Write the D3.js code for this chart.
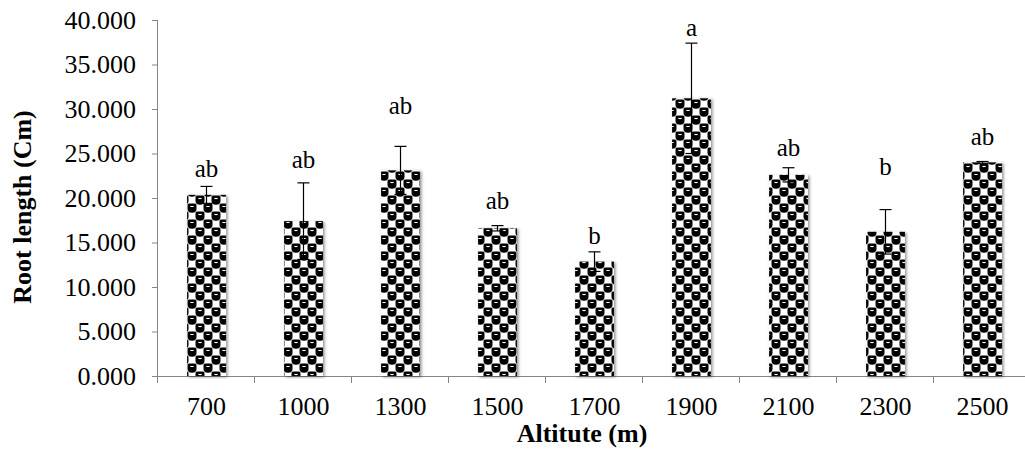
<!DOCTYPE html>
<html>
<head>
<meta charset="utf-8">
<script src="https://cdn.jsdelivr.net/npm/d3@7"></script>
<style>
  body { margin: 0; background: #fff; }
  svg text { font-family: "Liberation Serif", Tinos, "Times New Roman", "DejaVu Serif", serif; fill: #000; }
</style>
</head>
<body>
<div id="chart"></div>
<script>
// data
const altitudes = ["700", "1000", "1300", "1500", "1700", "1900", "2100", "2300", "2500"];
const rootLength = [20.35, 17.4, 23.1, 16.6, 12.85, 31.2, 22.6, 16.2, 24.0];
const stdError = [0.95, 4.3, 2.7, 0.3, 1.1, 6.2, 0.8, 2.5, 0.1];
const letters = ["ab", "ab", "ab", "ab", "b", "a", "ab", "b", "ab"];
// height (in Cm) where each significance letter sits
const letterAt = [22.4, 23.4, 29.4, 18.8, 14.8, 38.2, 24.7, 22.6, 26.0];
const yTicks = [0, 5, 10, 15, 20, 25, 30, 35, 40];

const width = 1025;
const height = 450;
const plotLeft = 158;
const plotRight = 1031;
const plotTop = 20;
const plotBottom = 376;
const serif = "'Liberation Serif', Tinos, 'Times New Roman', 'DejaVu Serif', serif";

const svg = d3.select("#chart")
  .append("svg")
  .attr("width", width)
  .attr("height", height);

svg.append("rect")
  .attr("width", width)
  .attr("height", height)
  .attr("fill", "#fff");

const defs = svg.append("defs");

// checkerboard of black beads, like the Excel fill
const pat = defs.append("pattern")
  .attr("id", "beads")
  .attr("patternUnits", "userSpaceOnUse")
  .attr("width", 16)
  .attr("height", 16);
pat.append("rect").attr("width", 16).attr("height", 16).attr("fill", "#fff");
[[0, 0], [8, 8], [16, 16], [16, 0], [0, 16]].forEach(([px, py]) => {
  pat.append("path")
    .attr("d", `M${px - 4.5},${py - 3} Q${px - 4.5},${py - 4.5} ${px - 3},${py - 4.5} H${px + 3} Q${px + 4.5},${py - 4.5} ${px + 4.5},${py - 3} V${py + 1} Q${px + 4.5},${py + 4.7} ${px},${py + 4.7} Q${px - 4.5},${py + 4.7} ${px - 4.5},${py + 1} Z`)
    .attr("fill", "#000");
  pat.append("line")
    .attr("x1", px - 1.6).attr("x2", px + 1.6)
    .attr("y1", py - 1.5).attr("y2", py - 1.5)
    .attr("stroke", "#fff")
    .attr("stroke-width", 1.2);
});

const shadow = defs.append("filter")
  .attr("id", "shadow")
  .attr("x", "-20%").attr("y", "-5%")
  .attr("width", "150%").attr("height", "110%");
shadow.append("feDropShadow")
  .attr("dx", 1.5).attr("dy", 1)
  .attr("stdDeviation", 1.8)
  .attr("flood-color", "#000")
  .attr("flood-opacity", 0.45);

const x = d3.scaleBand()
  .domain(altitudes)
  .range([plotLeft, plotRight])
  .paddingInner(0.6)
  .paddingOuter(0.3);

const y = d3.scaleLinear()
  .domain([0, 40])
  .range([plotBottom, plotTop]);

// y axis
const yAxis = svg.append("g")
  .attr("transform", `translate(${plotLeft},0)`)
  .call(d3.axisLeft(y).tickValues(yTicks).tickSize(6).tickPadding(16)
    .tickFormat(d3.format(".3f")));
yAxis.attr("font-family", serif);
yAxis.select(".domain").attr("stroke", "#868686").attr("d", `M-0.5,${plotTop}V${plotBottom}`);
yAxis.selectAll(".tick line").attr("stroke", "#868686");
yAxis.selectAll(".tick text")
  .attr("font-size", 26)
  .attr("fill", "#000");

// x axis line with ticks between categories
const step = x.step();
const bounds = d3.range(altitudes.length + 1).map((i) => plotLeft + i * step);
svg.append("line")
  .attr("x1", plotLeft).attr("x2", width)
  .attr("y1", plotBottom + 0.5).attr("y2", plotBottom + 0.5)
  .attr("stroke", "#868686");
svg.selectAll(".xtick")
  .data(bounds)
  .enter()
  .append("line")
  .attr("class", "xtick")
  .attr("x1", (d) => Math.round(d) - 0.5)
  .attr("x2", (d) => Math.round(d) - 0.5)
  .attr("y1", plotBottom)
  .attr("y2", plotBottom + 7)
  .attr("stroke", "#868686");

svg.selectAll(".xlabel")
  .data(altitudes)
  .enter()
  .append("text")
  .attr("class", "xlabel")
  .attr("x", (d) => x(d) + x.bandwidth() / 2)
  .attr("y", 415)
  .attr("text-anchor", "middle")
  .attr("font-family", serif)
  .attr("font-size", 26)
  .text((d) => d);

// bars
svg.selectAll(".bar")
  .data(altitudes)
  .enter()
  .append("rect")
  .attr("class", "bar")
  .attr("x", (d) => x(d))
  .attr("y", (d, i) => y(rootLength[i]))
  .attr("width", x.bandwidth())
  .attr("height", (d, i) => plotBottom - y(rootLength[i]))
  .attr("fill", "url(#beads)")
  .attr("filter", "url(#shadow)");

// error bars
const err = svg.selectAll(".err")
  .data(altitudes)
  .enter()
  .append("g")
  .attr("class", "err")
  .attr("stroke", "#000")
  .attr("stroke-width", 1.2);
const cx = (d) => Math.round(x(d) + x.bandwidth() / 2) + 0.5;
err.append("line")
  .attr("x1", cx).attr("x2", cx)
  .attr("y1", (d, i) => y(rootLength[i] - stdError[i]))
  .attr("y2", (d, i) => y(rootLength[i] + stdError[i]));
err.append("line")
  .attr("x1", (d) => cx(d) - 6).attr("x2", (d) => cx(d) + 6)
  .attr("y1", (d, i) => y(rootLength[i] + stdError[i]))
  .attr("y2", (d, i) => y(rootLength[i] + stdError[i]));
err.append("line")
  .attr("x1", (d) => cx(d) - 6).attr("x2", (d) => cx(d) + 6)
  .attr("y1", (d, i) => y(rootLength[i] - stdError[i]))
  .attr("y2", (d, i) => y(rootLength[i] - stdError[i]));

// significance letters
svg.selectAll(".letter")
  .data(altitudes)
  .enter()
  .append("text")
  .attr("class", "letter")
  .attr("x", (d) => x(d) + x.bandwidth() / 2)
  .attr("y", (d, i) => y(letterAt[i]))
  .attr("text-anchor", "middle")
  .attr("font-family", serif)
  .attr("font-size", 25)
  .text((d, i) => letters[i]);

// axis titles
svg.append("text")
  .attr("x", 582)
  .attr("y", 442)
  .attr("text-anchor", "middle")
  .attr("font-family", serif)
  .attr("font-size", 26)
  .attr("font-weight", "bold")
  .text("Altitute (m)");

svg.append("text")
  .attr("transform", "translate(31,207) rotate(-90)")
  .attr("text-anchor", "middle")
  .attr("font-family", serif)
  .attr("font-size", 26)
  .attr("font-weight", "bold")
  .text("Root length (Cm)");
</script>
</body>
</html>
